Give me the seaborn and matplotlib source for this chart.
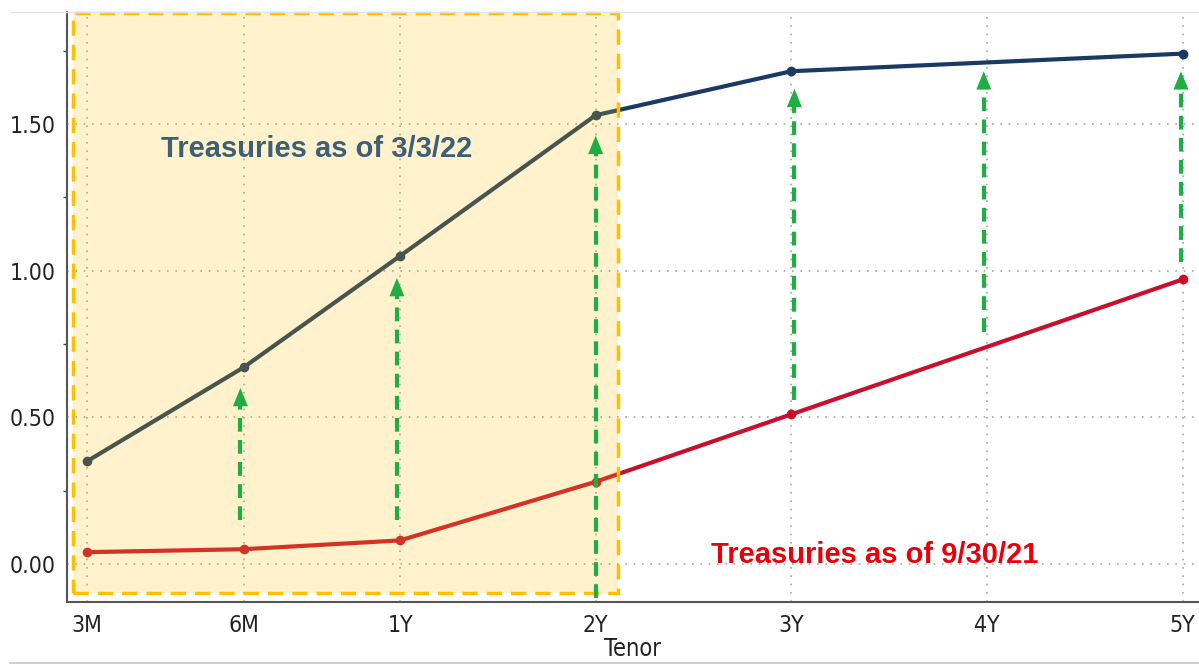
import matplotlib
matplotlib.use("Agg")
import numpy as np
import pandas as pd
import matplotlib.pyplot as plt
import matplotlib.patches as mpatches
from matplotlib.lines import Line2D
from matplotlib.ticker import MultipleLocator, FixedLocator
import seaborn as sns

# ---- data ----
tenor_labels = ["3M", "6M", "1Y", "2Y", "3Y", "4Y", "5Y"]
tenor_pos = [0, 1, 2, 3.25, 4.5, 5.75, 7]          # axis spacing used by the source chart
curve_tenors = ["3M", "6M", "1Y", "2Y", "3Y", "5Y"]
yields_mar22 = [0.35, 0.67, 1.05, 1.53, 1.68, 1.74]
yields_sep21 = [0.04, 0.05, 0.08, 0.28, 0.51, 0.97]

# green "move up" arrows: tenor position, start and end yield
arrow_x = [0.98, 1.98, 3.25, 4.52, 5.73, 6.99]
arrow_from = [0.15, 0.15, -0.115, 0.56, 0.79, 1.03]
arrow_to = [0.60, 0.975, 1.46, 1.62, 1.68, 1.68]

pos_map = dict(zip(tenor_labels, tenor_pos))
df = pd.DataFrame({
    "tenor": curve_tenors * 2,
    "x": [pos_map[t] for t in curve_tenors] * 2,
    "yield": yields_mar22 + yields_sep21,
    "curve": ["3/3/22"] * len(curve_tenors) + ["9/30/21"] * len(curve_tenors),
})

sns.set_theme(style="white")
plt.rcParams["font.family"] = ["DejaVu Sans"]
plt.rcParams["font.stretch"] = "condensed"

NAVY = "#1b3a63"
RED = "#c8102e"
GREEN = "#1fae43"
GOLD = "#ffc000"

fig = plt.figure(figsize=(11.99, 6.64), dpi=100)
ax = fig.add_axes([67 / 1199, 62 / 664, 1 - 67 / 1199, (602 - 12) / 664])

sns.lineplot(data=df, x="x", y="yield", hue="curve",
             palette={"3/3/22": NAVY, "9/30/21": RED},
             marker="o", markersize=7, markeredgewidth=0, linewidth=3,
             legend=False, ax=ax, zorder=2)

ax.set_xlim(-0.128, 7.105)
ax.set_ylim(-0.13, 1.882)

# shaded short-end box (overlay on top of the lines, like the original)
ax.add_patch(mpatches.Rectangle((-0.09, -0.10), 3.39 + 0.09, 1.98,
                                facecolor=GOLD, alpha=0.2, edgecolor="none", zorder=3))
ax.add_patch(mpatches.Rectangle((-0.09, -0.10), 3.39 + 0.09, 1.98,
                                fill=False, edgecolor=GOLD, linewidth=2.5,
                                linestyle=(0, (4.4, 2.6)), zorder=4, clip_on=False))

for x, y0, y1 in zip(arrow_x, arrow_from, arrow_to):
    ax.plot([x, x], [y0, y1 - 0.05], color=GREEN, linewidth=3,
            linestyle=(0, (3.3, 2.0)), solid_capstyle="butt", zorder=5)
    ax.annotate("", xy=(x, y1), xytext=(x, y1 - 0.06),
                arrowprops=dict(arrowstyle="-|>,head_length=1.1,head_width=0.45",
                                color=GREEN, lw=0, shrinkA=0, shrinkB=0),
                zorder=5)

ax.text(1.47, 1.415, "Treasuries as of 3/3/22", color="#3d5f78", fontsize=21,
        fontweight="bold", family=["Liberation Sans", "DejaVu Sans"], fontstretch="normal",
        ha="center", va="center", zorder=6)
ax.text(5.03, 0.03, "Treasuries as of 9/30/21", color="#e8000b", fontsize=21,
        fontweight="bold", family=["Liberation Sans", "DejaVu Sans"], fontstretch="normal",
        ha="center", va="center", zorder=6)

# axes styling
ax.set_xticks(tenor_pos)
ax.set_xticklabels(tenor_labels)
ax.yaxis.set_major_locator(MultipleLocator(0.5))
ax.yaxis.set_minor_locator(FixedLocator([0.25, 0.75, 1.25, 1.75]))
ax.yaxis.set_major_formatter(matplotlib.ticker.FormatStrFormatter("%.2f"))
ax.grid(True, which="major", color="#a6a6a6", linestyle=(0, (1, 4)), linewidth=1.2)
ax.tick_params(axis="both", which="major", labelsize=16.5, colors="#222222",
               length=5, width=1.5, direction="out")
ax.tick_params(axis="y", which="minor", length=3, width=1, colors="#444444", left=True)
ax.tick_params(axis="x", pad=4)
ax.tick_params(axis="y", pad=3)
for s in ["top", "right"]:
    ax.spines[s].set_visible(False)
for s in ["left", "bottom"]:
    ax.spines[s].set_color("#555555")
    ax.spines[s].set_linewidth(1.5)
ax.set_xlabel("Tenor", fontsize=17, color="#222222", labelpad=0)
ax.set_ylabel("")

# frame lines of the original screenshot
fig.add_artist(Line2D([10 / 1199, 1], [1 - 12 / 664] * 2, color="#e3e3e3", lw=1))
fig.add_artist(Line2D([10 / 1199, 1], [1 / 664] * 2, color="#d0d0d0", lw=1.5))

fig.savefig("out.png", dpi=100)
